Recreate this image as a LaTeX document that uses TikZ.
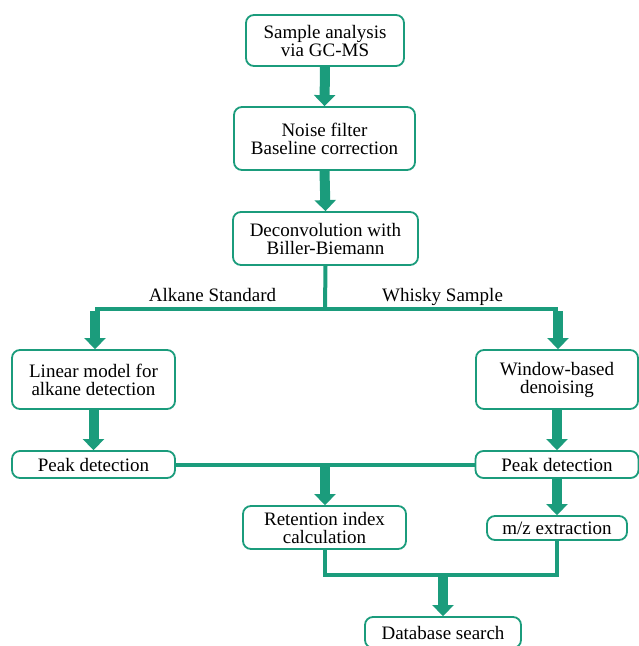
\documentclass[tikz,border=0pt]{standalone}
\usepackage{fontspec}
\setmainfont{Liberation Serif}
\usetikzlibrary{arrows.meta}
\definecolor{teal1}{RGB}{27,156,124}
\tikzset{
  box/.style={draw=teal1, line width=1.8pt, rounded corners=8pt, fill=white,
    align=center, inner sep=0pt, font=\fontsize{19}{18}\selectfont},
  conn/.style={draw=teal1, line width=4pt},
  bigarrow/.style={draw=teal1, line width=10pt, -{Triangle[width=21pt,length=11pt]}, shorten >=0pt},
  lab/.style={font=\fontsize{19}{18}\selectfont, anchor=base, inner sep=0pt}
}
\begin{document}
\begin{tikzpicture}[x=1pt,y=-1pt]
\useasboundingbox (0,0) rectangle (639,646);
\begin{scope}
\clip (0,0) rectangle (639,646);
\node[box, minimum width=158pt, minimum height=51pt] (b1) at (325,40.5) {Sample analysis\\via GC-MS};
\node[box, minimum width=181pt, minimum height=63pt] (b2) at (324.5,138.5) {Noise filter\\Baseline correction};
\node[box, minimum width=185pt, minimum height=53pt] (b3) at (325.5,238.5) {Deconvolution with\\Biller-Biemann};
\node[box, minimum width=163pt, minimum height=59pt] (b4) at (93.5,379.5) {Linear model for\\alkane detection};
\node[box, minimum width=162pt, minimum height=59pt] (b5) at (557,379.5) {Window-based\\denoising};
\node[box, minimum width=163pt, minimum height=27pt] (b6) at (93.5,464.5) {Peak detection};
\node[box, minimum width=163pt, minimum height=27pt] (b7) at (557,464.5) {Peak detection};
\node[box, minimum width=163pt, minimum height=43pt] (b8) at (324.5,527.5) {Retention index\\calculation};
\node[box, minimum width=140pt, minimum height=24pt] (b9) at (557,528) {m/z extraction};
\node[box, minimum width=156pt, minimum height=31pt] (b10) at (443,632.5) {Database search};

\coordinate (s1) at (325,309);
\coordinate (sl) at (95,309);
\coordinate (sr) at (558,309);
\coordinate (m1) at (325,464.5);
\coordinate (j1) at (325,575);
\coordinate (j2) at (557,575);
\coordinate (jm) at (443,575);

\draw[bigarrow] (b1.south) -- (b2.north);
\draw[bigarrow] (b2.south) -- (b3.north);
\draw[conn] (b3.south) -- (s1);
\draw[conn] (sl) -- (sr);
\draw[bigarrow] ([yshift=-2pt]sl) -- (b4.north -| sl);
\draw[bigarrow] ([yshift=-2pt]sr) -- (b5.north -| sr);
\draw[bigarrow] (b4.south) -- (b6.north);
\draw[bigarrow] (b5.south) -- (b7.north);
\draw[conn] (b6.east) -- (b7.west);
\draw[bigarrow] (m1) -- (b8.north -| m1);
\draw[bigarrow] (b7.south) -- (b9.north);
\draw[conn, line join=miter] (b8.south -| j1) -- (j1) -- (j2) -- (b9.south);
\draw[bigarrow] (jm) -- (b10.north);

\node[lab] (l1) at (212.5,301) {Alkane Standard};
\node[lab] (l2) at (442.5,301) {Whisky Sample};
\end{scope}
\end{tikzpicture}
\end{document}
